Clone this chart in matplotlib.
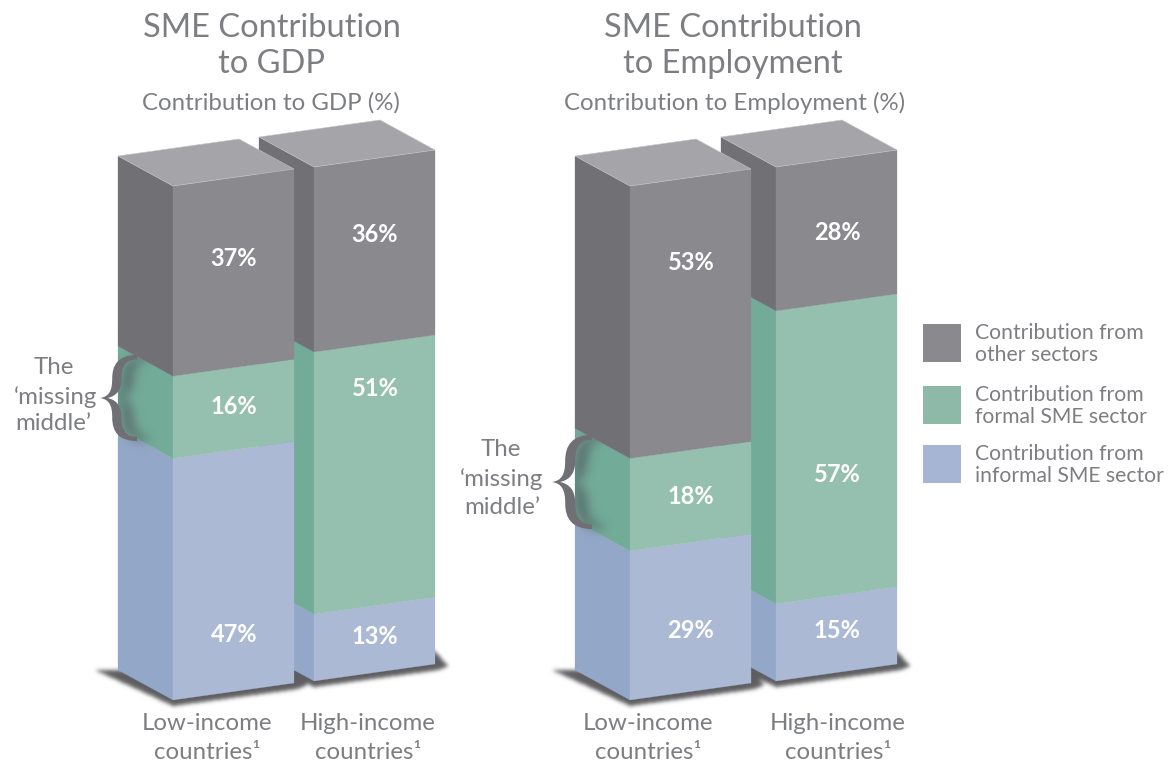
"""SME contribution to GDP and to employment: pseudo-3D stacked bars."""
import matplotlib

matplotlib.use("Agg")
import matplotlib.pyplot as plt  # noqa: E402
import numpy as np  # noqa: E402
from matplotlib.patches import PathPatch, Polygon, Rectangle  # noqa: E402
from matplotlib.path import Path  # noqa: E402
from matplotlib.transforms import Affine2D  # noqa: E402

plt.rcParams["font.family"] = ["Lato", "DejaVu Sans"]

W, H = 1176, 761

# data
categories = ["Low-income\ncountries\u00b9", "High-income\ncountries\u00b9"]
gdp_informal = [47, 13]
gdp_formal = [16, 51]
gdp_other = [37, 36]
emp_informal = [29, 15]
emp_formal = [18, 57]
emp_other = [53, 28]
legend_labels = [
    "Contribution from\nother sectors",
    "Contribution from\nformal SME sector",
    "Contribution from\ninformal SME sector",
]

# box geometry, in pixels
FRONT_W, FRONT_RISE = 121, 17
DEPTH_X, DEPTH_Y = 55, 30
PX_PER_PCT = 5.14

# colours: front, side
INK = "#7d7e82"
GREY = ("#8a898e", "#707075")
GREEN = ("#95bfae", "#72ab98")
BLUE = ("#abb9d5", "#93a8c8")
TOP = "#a5a4a9"
LEGEND_COLORS = ["#8a898e", "#8eb9a8", "#a7b5d4"]


def blurred(ax, polys, color, alpha, sigma, zorder, clip=None):
    yy, xx = np.mgrid[0:H, 0:W]
    pts = np.c_[xx.ravel() + 0.5, yy.ravel() + 0.5]
    mask = np.zeros(H * W, dtype=bool)
    for poly in polys:
        mask |= Path(poly).contains_points(pts)
    mask = mask.reshape(H, W).astype(float)
    fy = np.fft.fftfreq(H)[:, None]
    fx = np.fft.rfftfreq(W)[None, :]
    kernel = np.exp(-2 * (np.pi * sigma) ** 2 * (fx**2 + fy**2))
    soft = np.fft.irfft2(np.fft.rfft2(mask) * kernel, s=(H, W)).clip(0, 1)
    rgba = np.zeros((H, W, 4))
    rgba[..., :3] = matplotlib.colors.to_rgb(color)
    rgba[..., 3] = soft * alpha
    im = ax.imshow(rgba, extent=(0, W, H, 0), aspect="auto", zorder=zorder,
                   interpolation="bilinear")
    if clip is not None:
        im.set_clip_path(Polygon(clip, closed=True, transform=ax.transData))


def draw_box(ax, x0, y0, informal, formal, other, z):
    # (u, pct) -> pixels, one affine per visible face
    front = Affine2D.from_values(FRONT_W, -FRONT_RISE, 0, -PX_PER_PCT, x0, y0)
    side = Affine2D.from_values(DEPTH_X, DEPTH_Y, 0, -PX_PER_PCT,
                                x0 - DEPTH_X, y0 - DEPTH_Y)
    bottom = 0
    for val, cols in zip((informal, formal, other), (BLUE, GREEN, GREY)):
        ax.bar(0.5, val, width=1, bottom=bottom, transform=side + ax.transData,
               color=cols[1], edgecolor=cols[1], linewidth=0.2, zorder=z)
        ax.bar(0.5, val, width=1, bottom=bottom, transform=front + ax.transData,
               color=cols[0], edgecolor=cols[0], linewidth=0.2, zorder=z)
        bottom += val
    corners = front.transform([(0, bottom), (1, bottom)])
    top = [corners[0], corners[1], corners[1] + (-DEPTH_X, -DEPTH_Y),
           corners[0] + (-DEPTH_X, -DEPTH_Y)]
    ax.add_patch(Polygon(top, closed=True, facecolor=TOP, edgecolor="#c4c4c8",
                         linewidth=0.4, zorder=z))
    return side


def ground_shadow(x0, y0):
    return [(x0 - 78, y0 - 30), (x0 - 30, y0 - 8), (x0, y0 + 6),
            (x0 + 125, y0 - 11), (x0 + 134, y0 - 15), (x0 + 121, y0 - 30),
            (x0, y0 - 30)]


def brace_path(tip_x, mid_y, width, half):
    v = [(0, 0),
         (0.24, -0.03), (0.33, -0.16), (0.33, -0.45),
         (0.33, -0.78), (0.50, -1.0), (1.0, -1.0),
         (1.0, -0.90),
         (0.70, -0.90), (0.58, -0.75), (0.58, -0.45),
         (0.58, -0.16), (0.42, -0.04), (0.20, 0),
         (0.42, 0.04), (0.58, 0.16), (0.58, 0.45),
         (0.58, 0.75), (0.70, 0.90), (1.0, 0.90),
         (1.0, 1.0),
         (0.50, 1.0), (0.33, 0.78), (0.33, 0.45),
         (0.33, 0.16), (0.24, 0.03), (0, 0),
         (0, 0)]
    c = [Path.MOVETO] + [Path.CURVE4] * 6 + [Path.LINETO] + [Path.CURVE4] * 12 \
        + [Path.LINETO] + [Path.CURVE4] * 6 + [Path.CLOSEPOLY]
    return Path(v, c).transformed(Affine2D().scale(width, half).translate(tip_x, mid_y))


def draw_panel(ax, x_low, x_high, informal, formal, other, label_y, cat_x, title,
               title_x, sub, sub_x, brace, note):
    y_low, y_high = 700, 681
    blurred(ax, [ground_shadow(x_low, y_low), ground_shadow(x_high, y_high)],
            "#4c4c50", 0.9, 2.0, 0.5)
    draw_box(ax, x_high, y_high, informal[1], formal[1], other[1], 2)
    side = draw_box(ax, x_low, y_low, informal[0], formal[0], other[0], 3)

    # labels inside the boxes
    for x, ys, i in zip((x_low, x_high), label_y, (0, 1)):
        vals = (informal[i], formal[i], other[i])
        for y, v in zip(ys, vals):
            ax.text(x + 61, y, f"{v}%", color="white", fontsize=17, weight="bold",
                    ha="center", va="center", zorder=6)

    for x, cat in zip(cat_x, categories):
        ax.text(x, 738, cat, color=INK, fontsize=17.3, ha="center", va="center",
                linespacing=1.45, zorder=6)

    ax.text(title_x, 46, title, color=INK, fontsize=23.5, ha="center", va="center",
            linespacing=1.23, zorder=6)
    ax.text(sub_x, 103, sub, color=INK, fontsize=17.3, ha="center", va="center", zorder=6)

    # missing middle brace with its soft shadow on the side face
    path = brace_path(*brace)
    clip = side.transform([(0, 0), (1, 0), (1, informal[0] + formal[0]),
                           (0, informal[0] + formal[0])])
    blurred(ax, [p + (11, 0) for p in path.to_polygons()], "#4a4a52", 0.75, 5.5, 3.5, clip=clip)
    ax.add_patch(PathPatch(path, facecolor="#6f6f74", edgecolor="none", zorder=4))
    for (x, y, ha), line in zip(note, ("The", "\u2018missing", "middle\u2019")):
        ax.text(x, y, line, color=INK, fontsize=17.3, ha=ha, va="center", zorder=6)


fig = plt.figure(figsize=(W / 100, H / 100), dpi=100, facecolor="white")
ax = fig.add_axes([0, 0, 1, 1])

draw_panel(ax, 173, 314, gdp_informal, gdp_formal, gdp_other,
           [(634, 406, 258), (636, 389, 234)], (207, 368),
           "SME Contribution\nto GDP", 272, "Contribution to GDP (%)", 271,
           (100, 398, 37, 43),
           [(54, 367, "center"), (97, 397, "right"), (91, 424, "right")])
draw_panel(ax, 630, 776, emp_informal, emp_formal, emp_other,
           [(631, 497, 262), (631, 474, 232)], (648, 838),
           "SME Contribution\nto Employment", 733, "Contribution to Employment (%)", 735,
           (552, 482, 40, 47),
           [(501, 449, "center"), (543, 479, "right"), (540, 507, "right")])

for y, col, lab in zip((324, 386, 445), LEGEND_COLORS, legend_labels):
    ax.add_patch(Rectangle((923, y), 38, 38, facecolor=col, edgecolor="none", zorder=2))
    ax.text(975, y + 20, lab, color=INK, fontsize=15.2, ha="left", va="center",
            linespacing=1.17, zorder=6)

ax.set_xlim(0, W)
ax.set_ylim(H, 0)
ax.axis("off")
fig.savefig("out.png", dpi=100, facecolor="white")
